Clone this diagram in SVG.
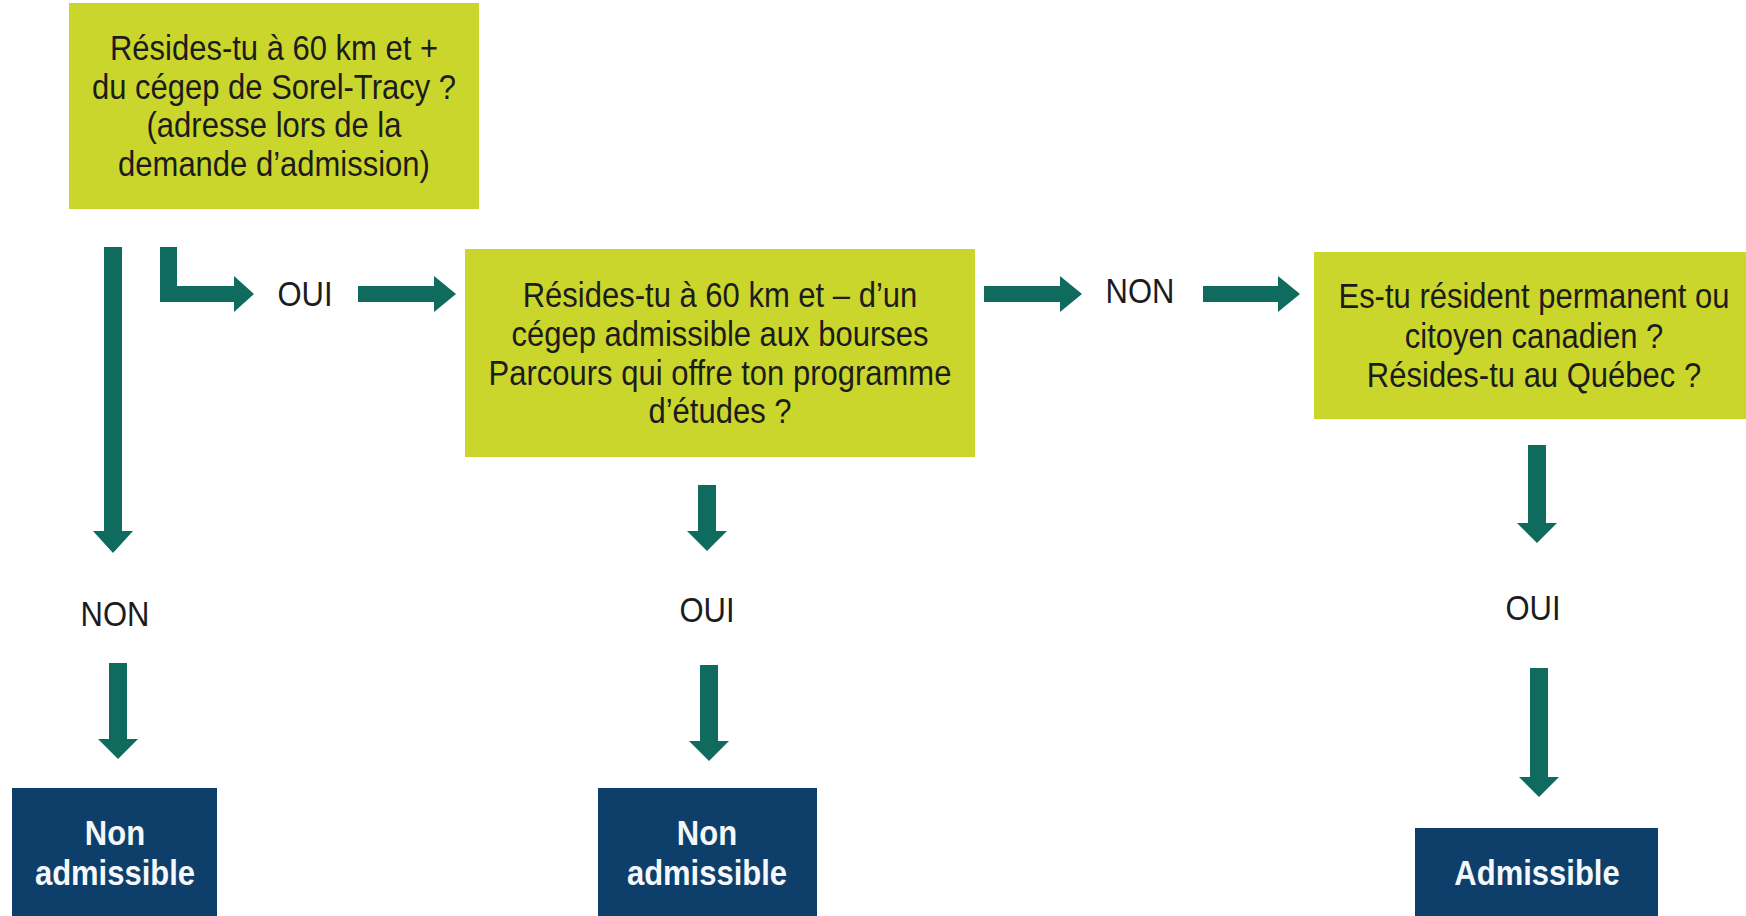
<svg xmlns="http://www.w3.org/2000/svg" width="1746" height="916" viewBox="0 0 1746 916">
<style>
.q{fill:#cbd62c}
.r{fill:#0e3f6b}
.a{fill:#0e6b5d}
.t{font-family:"Liberation Sans",Arial,sans-serif;font-size:31px;fill:#1c1c1c;text-anchor:middle}
.b{font-family:"Liberation Sans",Arial,sans-serif;font-size:31px;font-weight:bold;fill:#f4f8fb;text-anchor:middle}
</style>
<rect width="1746" height="916" fill="#ffffff"/>
<g id="connectors">
<polygon class="a" points="104,247 122,247 122,531 133,531 113,553 93,531 104,531"/>
<polygon class="a" points="160,247 177,247 177,286 234,286 234,276 254,294 234,312 234,302 160,302"/>
<polygon class="a" points="358,286 434,286 434,276 456,294 434,312 434,302 358,302"/>
<polygon class="a" points="984,286 1060,286 1060,276 1082,294 1060,312 1060,302 984,302"/>
<polygon class="a" points="1203,286 1278,286 1278,276 1300,294 1278,312 1278,302 1203,302"/>
<polygon class="a" points="698,485 716,485 716,531 727,531 707,551 687,531 698,531"/>
<polygon class="a" points="700,665 718,665 718,741 729,741 709,761 689,741 700,741"/>
<polygon class="a" points="109,663 127,663 127,739 138,739 118,759 98,739 109,739"/>
<polygon class="a" points="1528,445 1546,445 1546,523 1557,523 1537,543 1517,523 1528,523"/>
<polygon class="a" points="1530,668 1548,668 1548,777 1559,777 1539,797 1519,777 1530,777"/>
</g>
<g id="lbl-oui-1"><text class="t" transform="translate(305,306) scale(1,1.12)">OUI</text></g>
<g id="lbl-non-1"><text class="t" transform="translate(1140,303) scale(1,1.12)">NON</text></g>
<g id="lbl-non-2"><text class="t" transform="translate(115,626) scale(1,1.12)">NON</text></g>
<g id="lbl-oui-2"><text class="t" transform="translate(707,622) scale(1,1.12)">OUI</text></g>
<g id="lbl-oui-3"><text class="t" transform="translate(1533,620) scale(1,1.12)">OUI</text></g>
<g id="q1">
<rect class="q" x="69" y="3" width="410" height="206"/>
<text class="t" transform="translate(274,60) scale(1,1.12)">Résides-tu à 60 km et +</text>
<text class="t" transform="translate(274,99) scale(1,1.12)">du cégep de Sorel-Tracy ?</text>
<text class="t" transform="translate(274,137) scale(1,1.12)">(adresse lors de la</text>
<text class="t" transform="translate(274,176) scale(1,1.12)">demande d’admission)</text>
</g>
<g id="q2">
<rect class="q" x="465" y="249" width="510" height="208"/>
<text class="t" transform="translate(720,307) scale(1,1.12)">Résides-tu à 60 km et – d’un</text>
<text class="t" transform="translate(720,346) scale(1,1.12)">cégep admissible aux bourses</text>
<text class="t" transform="translate(720,385) scale(1,1.12)">Parcours qui offre ton programme</text>
<text class="t" transform="translate(720,423) scale(1,1.12)">d’études ?</text>
</g>
<g id="q3">
<rect class="q" x="1314" y="252" width="432" height="167"/>
<text class="t" transform="translate(1534,308) scale(1,1.12)">Es-tu résident permanent ou</text>
<text class="t" transform="translate(1534,348) scale(1,1.12)">citoyen canadien ?</text>
<text class="t" transform="translate(1534,387) scale(1,1.12)">Résides-tu au Québec ?</text>
</g>
<g id="r1">
<rect class="r" x="12" y="788" width="205" height="128"/>
<text class="b" transform="translate(115,845) scale(1,1.12)">Non</text>
<text class="b" transform="translate(115,885) scale(1,1.12)">admissible</text>
</g>
<g id="r2">
<rect class="r" x="598" y="788" width="219" height="128"/>
<text class="b" transform="translate(707,845) scale(1,1.12)">Non</text>
<text class="b" transform="translate(707,885) scale(1,1.12)">admissible</text>
</g>
<g id="r3">
<rect class="r" x="1415" y="828" width="243" height="88"/>
<text class="b" transform="translate(1537,885) scale(1,1.12)">Admissible</text>
</g>
</svg>
